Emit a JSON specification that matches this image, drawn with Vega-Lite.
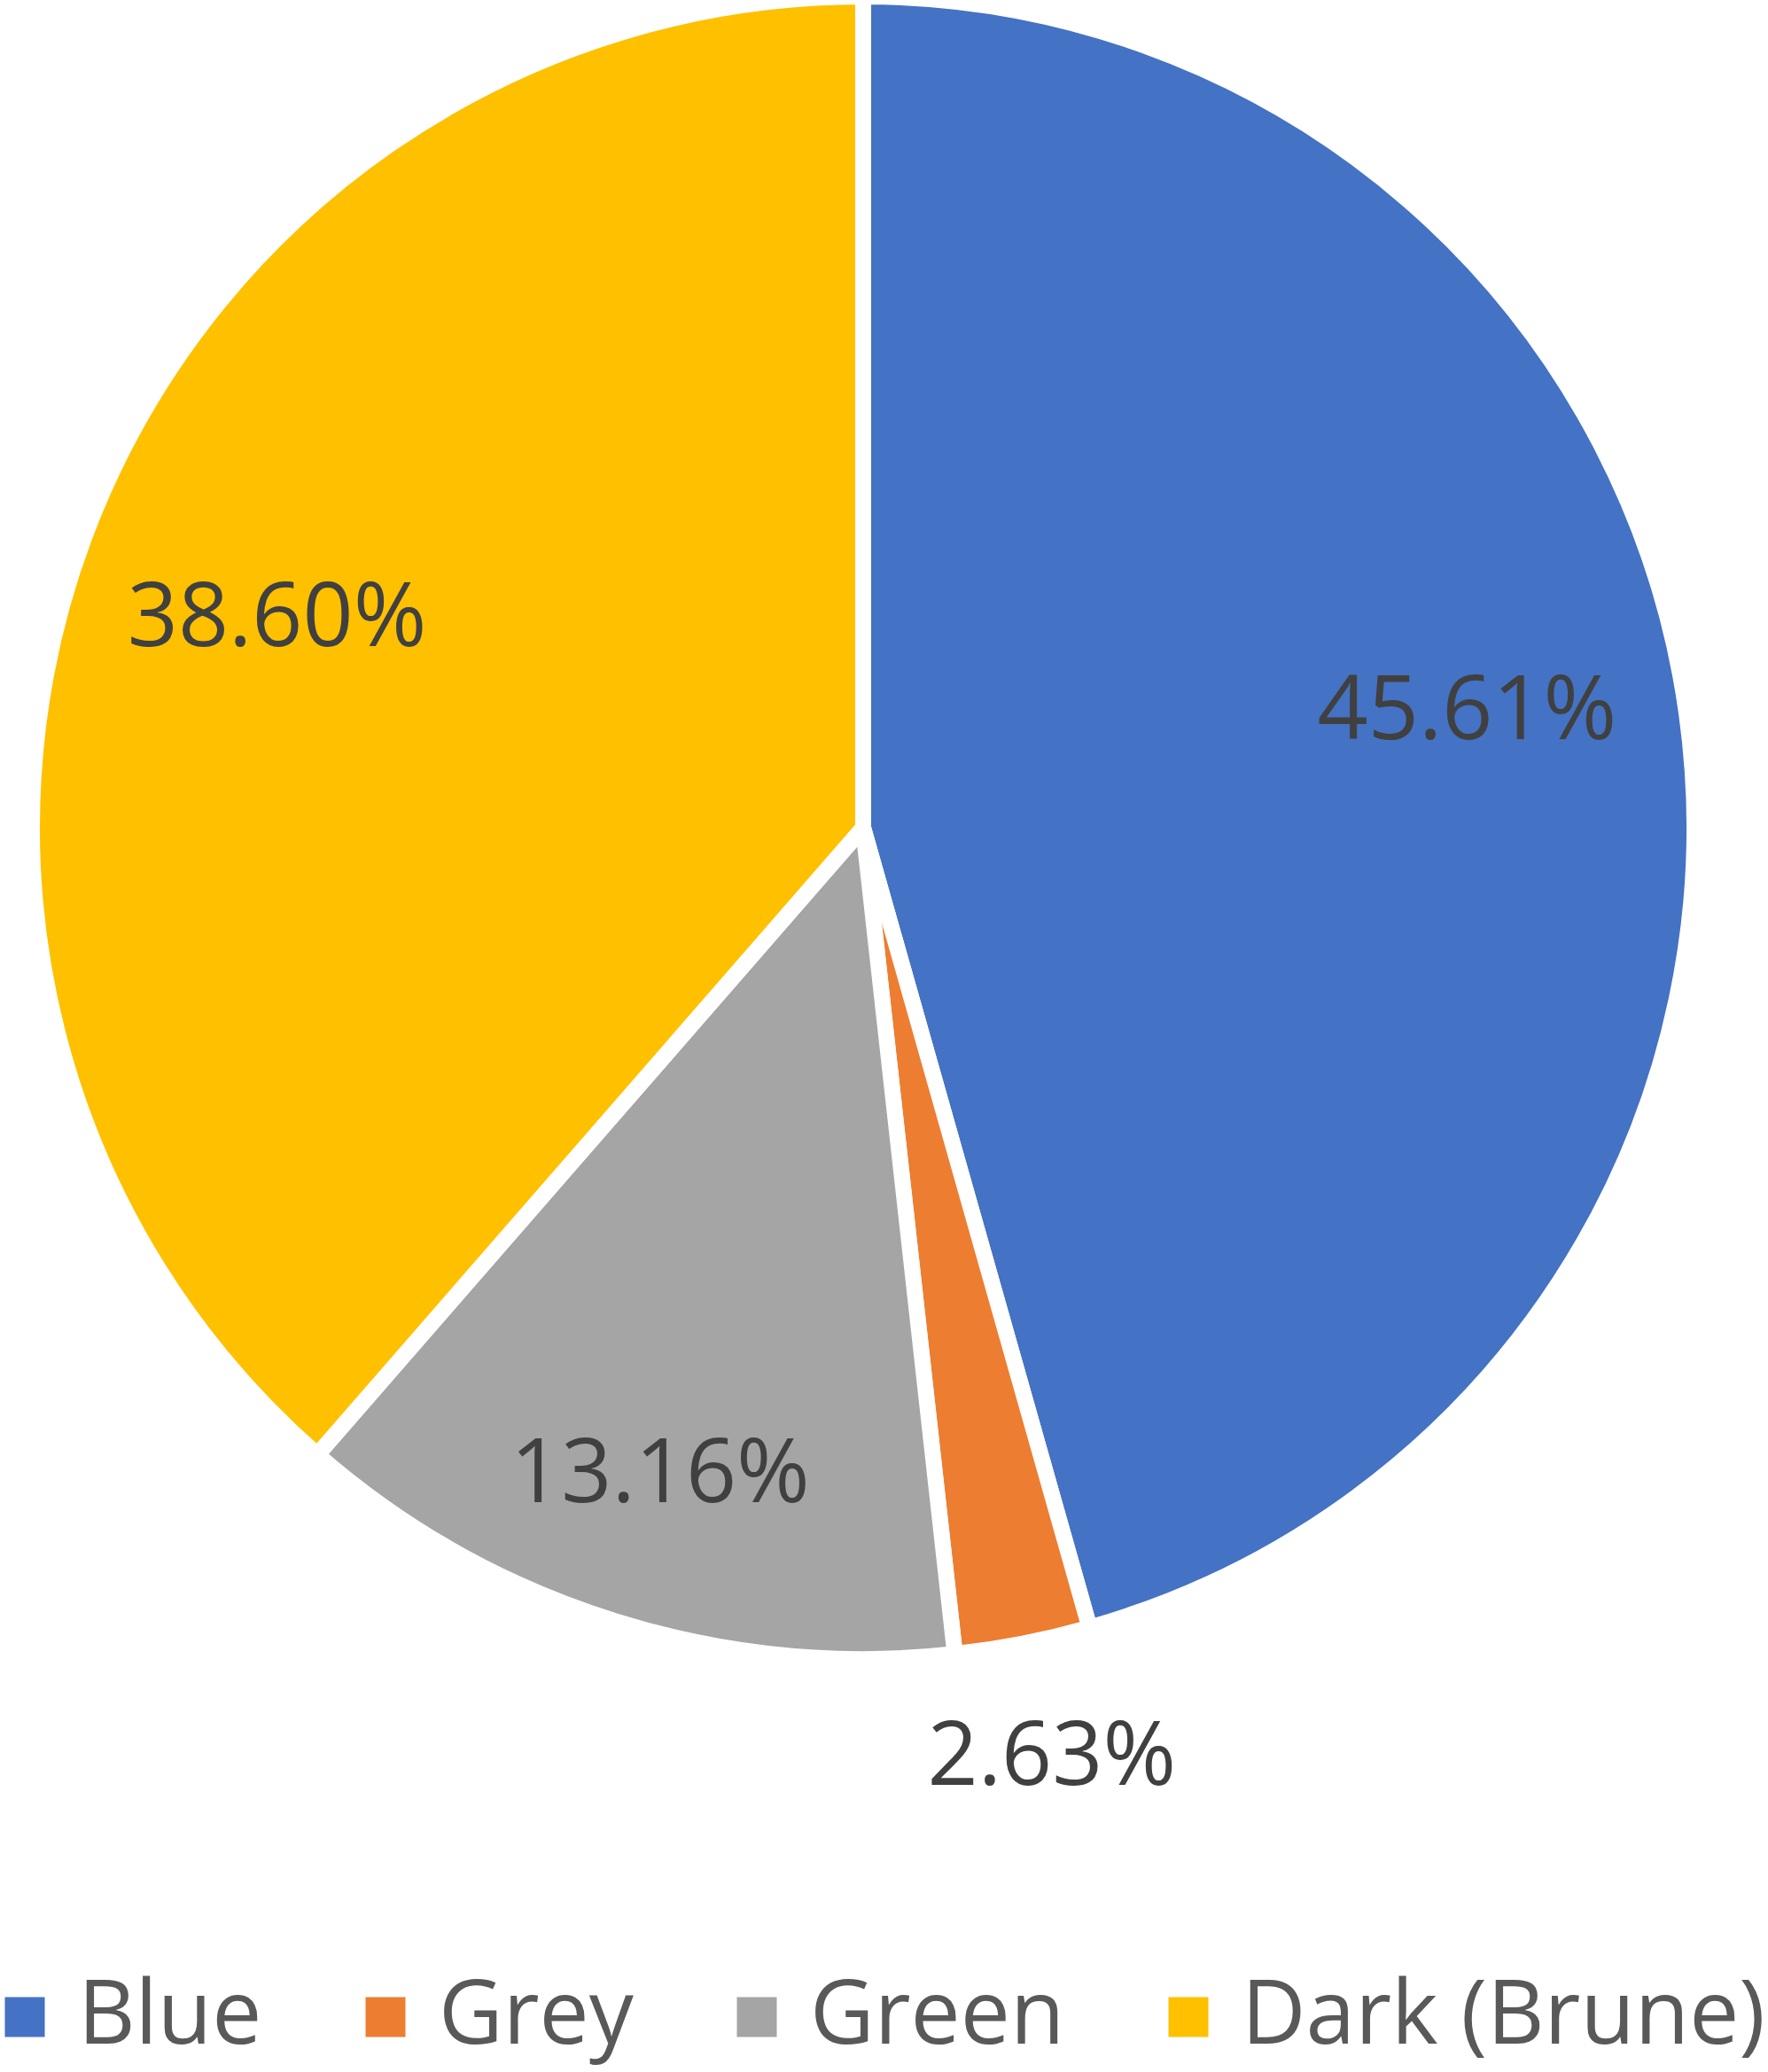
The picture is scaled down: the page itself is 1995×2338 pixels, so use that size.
{
  "$schema": "https://vega.github.io/schema/vega-lite/v6.json",
  "width": 1948,
  "height": 1868,
  "autosize": {"type": "none"},
  "padding": {"left": 0, "top": 0, "right": 47, "bottom": 470},
  "background": "white",
  "config": {"view": {"stroke": null}, "font": "Open Sans"},
  "data": {
    "values": [
      {"category": "Blue", "rank": 1, "pct": 45.61, "label": "45.61%"},
      {"category": "Grey", "rank": 2, "pct": 2.63, "label": "2.63%"},
      {"category": "Green", "rank": 3, "pct": 13.16, "label": "13.16%"},
      {"category": "Dark (Brune)", "rank": 4, "pct": 38.60, "label": "38.60%"}
    ]
  },
  "encoding": {
    "theta": {"field": "pct", "type": "quantitative", "stack": true},
    "order": {"field": "rank", "type": "quantitative", "sort": "ascending"}
  },
  "layer": [
    {
      "mark": {"type": "arc", "outerRadius": 938, "stroke": "white", "strokeWidth": 18},
      "encoding": {
        "color": {
          "field": "category",
          "type": "nominal",
          "sort": ["Blue", "Grey", "Green", "Dark (Brune)"],
          "scale": {
            "domain": ["Blue", "Grey", "Green", "Dark (Brune)"],
            "range": ["#4472C4", "#ED7D31", "#A5A5A5", "#FFC000"]
          },
          "legend": {
            "title": null,
            "orient": "none",
            "direction": "horizontal",
            "columns": 4,
            "legendX": -22,
            "legendY": 2226,
            "padding": 0,
            "symbolType": "square",
            "symbolSize": 2025,
            "symbolStrokeWidth": 0,
            "labelFontSize": 100,
            "labelFont": "Open Sans",
            "labelColor": "#595959",
            "labelOffset": 10,
            "columnPadding": 89,
            "labelLimit": 1000
          }
        }
      }
    },
    {
      "mark": {"type": "text", "radius": 693, "fontSize": 100, "font": "Open Sans", "color": "#404040", "dx": -5, "dy": -35, "baseline": "middle", "align": "center"},
      "encoding": {"text": {"condition": {"test": "datum.category === 'Blue'", "field": "label"}, "value": ""}}
    },
    {
      "mark": {"type": "text", "radius": 702, "fontSize": 100, "font": "Open Sans", "color": "#404040", "dx": -4, "dy": 11, "baseline": "middle", "align": "center"},
      "encoding": {"text": {"condition": {"test": "datum.category === 'Dark (Brune)'", "field": "label"}, "value": ""}}
    },
    {
      "mark": {"type": "text", "radius": 768, "fontSize": 100, "font": "Open Sans", "color": "#404040", "dy": -2, "baseline": "middle", "align": "center"},
      "encoding": {"text": {"condition": {"test": "datum.category === 'Green'", "field": "label"}, "value": ""}}
    },
    {
      "mark": {"type": "text", "radius": 1072, "fontSize": 100, "font": "Open Sans", "color": "#404040", "dx": 7, "dy": -2, "baseline": "middle", "align": "center"},
      "encoding": {"text": {"condition": {"test": "datum.category === 'Grey'", "field": "label"}, "value": ""}}
    }
  ]
}
